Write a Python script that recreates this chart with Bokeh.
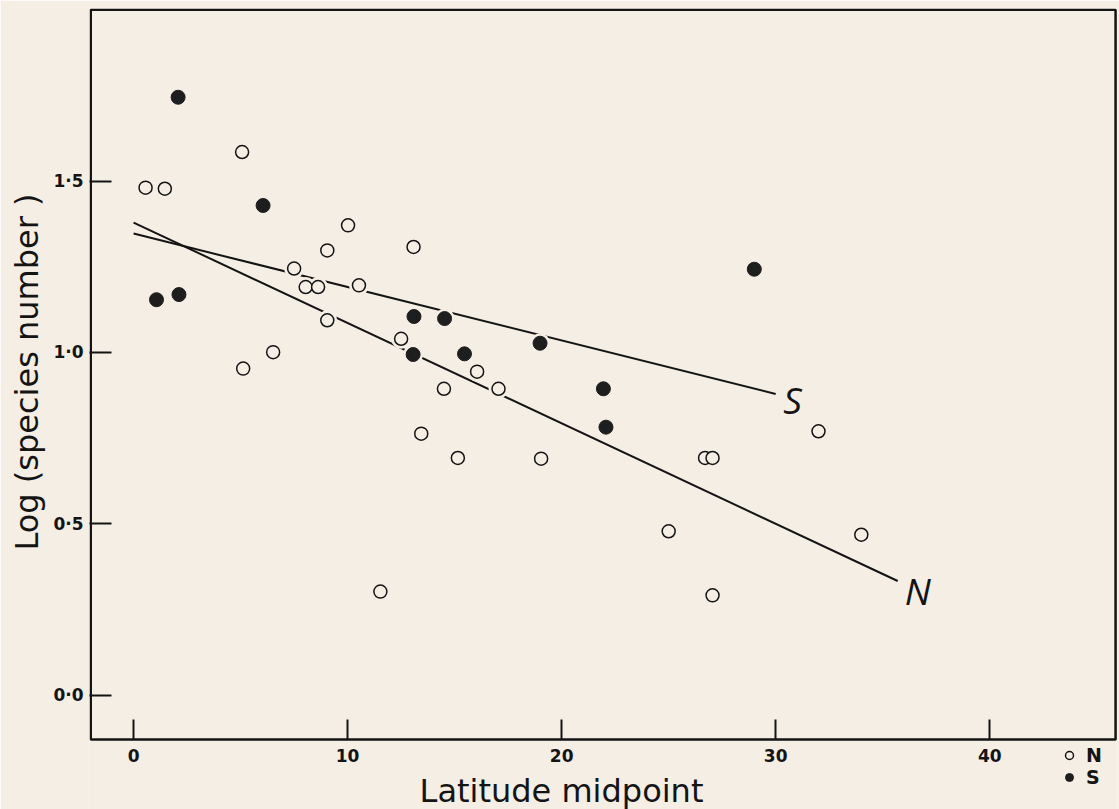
from bokeh.plotting import figure
from bokeh.models import (Range1d, FixedTicker, Label, Legend, LegendItem, Title,
                          ColumnDataSource, BoxAnnotation)
from bokeh.embed import file_html
from bokeh.resources import INLINE

# ---- data ----
n_lat = [0.56, 1.46, 5.07, 5.12, 6.52, 7.50, 8.04, 8.62, 9.05, 9.05, 10.02, 10.53, 11.53,
         12.50, 13.08, 13.44, 14.50, 15.15, 16.05, 17.05, 19.04, 25.0, 26.7, 27.05, 27.05,
         32.0, 34.0]
n_log = [1.481, 1.478, 1.585, 0.953, 1.001, 1.245, 1.191, 1.191, 1.298, 1.094, 1.371, 1.196,
         0.302, 1.040, 1.308, 0.763, 0.894, 0.692, 0.944, 0.894, 0.690, 0.478, 0.692, 0.692,
         0.291, 0.770, 0.468]

s_lat = [1.07, 2.08, 2.12, 6.05, 13.06, 13.10, 14.53, 15.46, 18.99, 21.95, 22.07, 29.0]
s_log = [1.154, 1.745, 1.169, 1.429, 0.994, 1.105, 1.099, 0.996, 1.027, 0.894, 0.782, 1.243]

fit_names = ["S", "N"]
fit_intercept = [1.347, 1.379]
fit_slope = [-0.0156, -0.0293]
fit_xmax = [30.0, 35.7]

x_ticks = [0, 10, 20, 30, 40]
x_tick_labels = ["0", "10", "20", "30", "40"]
y_ticks = [0.0, 0.5, 1.0, 1.5]
y_tick_labels = ["0·0", "0·5", "1·0", "1·5"]

x_title = "Latitude midpoint"
y_title = "Log (species number )"

# plotted box (axis limits of the original figure)
box_x = (-2.0, 45.88)
box_y = (-0.13, 2.0)

BG = "#f4eee5"
INK = "#141414"

p = figure(width=1119, height=809, output_backend="svg", toolbar_location=None,
           x_range=Range1d(-2.06, 45.97), y_range=Range1d(-0.334, 2.004),
           min_border_left=88, min_border_right=2, min_border_top=8, min_border_bottom=0,
           background_fill_color=BG, border_fill_color=BG)
p.xgrid.visible = False
p.ygrid.visible = False
p.outline_line_color = None

p.add_layout(BoxAnnotation(left=box_x[0], right=box_x[1], bottom=box_y[0], top=box_y[1],
                           fill_alpha=0, line_color=INK, line_alpha=1.0, line_width=2.5))

# axes
xa = p.xaxis[0]
ya = p.yaxis[0]
xa.fixed_location = box_y[0]
xa.bounds = (x_ticks[0], x_ticks[-1])
ya.bounds = box_y
xa.ticker = FixedTicker(ticks=x_ticks)
xa.major_label_overrides = {t: l for t, l in zip(x_ticks, x_tick_labels)}
ya.ticker = FixedTicker(ticks=y_ticks)
ya.major_label_overrides = {t: l for t, l in zip(y_ticks, y_tick_labels)}
for ax in (xa, ya):
    ax.axis_line_color = None
    ax.major_tick_line_color = INK
    ax.major_tick_line_width = 2
    ax.major_tick_out = 0
    ax.minor_tick_line_color = None
    ax.major_label_text_font = "DejaVu Sans"
    ax.major_label_text_font_size = "17px"
    ax.major_label_text_font_style = "bold"
    ax.major_label_text_color = INK
    ax.axis_label_text_font = "DejaVu Sans"
    ax.axis_label_text_font_style = "normal"
    ax.axis_label_text_color = INK
xa.major_tick_in = 20
ya.major_tick_in = 22
xa.major_label_standoff = 9
ya.major_label_standoff = 6
xa.axis_label = x_title
xa.axis_label_text_font_size = "32px"
xa.axis_label_standoff = 7

# y-axis title, anchored so that it sits where the original's does
p.add_layout(Title(text=y_title, align="left", offset=259, standoff=10,
                   text_font="DejaVu Sans", text_font_size="32px",
                   text_font_style="normal", text_color=INK), "left")

# regression lines
for name, b, m, xm in zip(fit_names, fit_intercept, fit_slope, fit_xmax):
    p.line([0, xm], [b, b + m * xm], line_color=INK, line_width=2)

# background-coloured halos around points (gaps in the lines)
p.scatter(n_lat + s_lat, n_log + s_log, size=20, fill_color=BG, line_color=None)

n_src = ColumnDataSource(dict(x=n_lat, y=n_log))
s_src = ColumnDataSource(dict(x=s_lat, y=s_log))
rn = p.scatter("x", "y", source=n_src, size=13, fill_color=BG, line_color=INK, line_width=1.5)
rs = p.scatter("x", "y", source=s_src, size=14, fill_color="#1e1e1e", line_color="#1e1e1e")

# line-end labels
offsets = {"S": (17, -6), "N": (20, -10)}
for name, b, m, xm in zip(fit_names, fit_intercept, fit_slope, fit_xmax):
    dx, dy = offsets[name]
    p.add_layout(Label(x=xm, y=b + m * xm, text=name, x_offset=dx, y_offset=dy,
                       text_align="center", text_baseline="middle",
                       text_font="Open Sans", text_font_style="italic",
                       text_font_size="37px", text_color=INK))

legend = Legend(items=[LegendItem(label="N", renderers=[rn]),
                       LegendItem(label="S", renderers=[rs])],
                location=(970, 21), orientation="vertical",
                background_fill_alpha=0, border_line_color=None,
                label_text_font="DejaVu Sans", label_text_font_size="19px",
                label_text_font_style="bold", label_text_color=INK,
                glyph_width=20, glyph_height=22, label_standoff=7,
                spacing=0, padding=0, margin=0, label_height=22)
p.add_layout(legend)

open("out.html", "w").write(file_html(p, INLINE))
